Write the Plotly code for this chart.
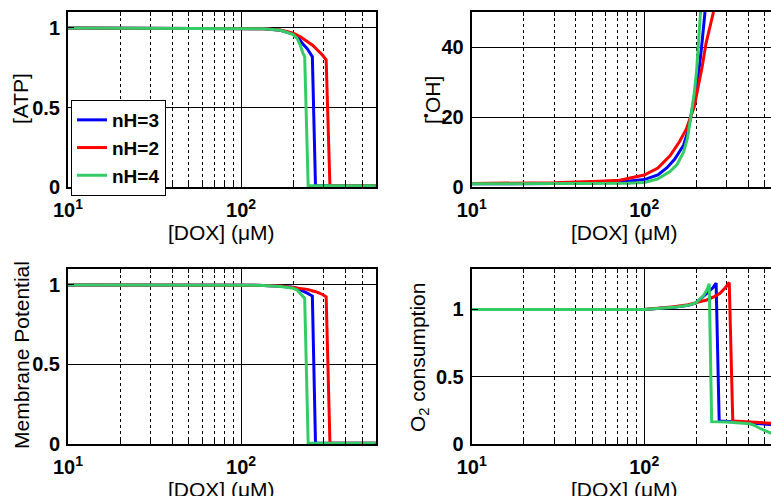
import math
import plotly.graph_objects as go

# ---------------- data ----------------
series_names = ["nH=3", "nH=2", "nH=4"]
series_colors = ["#0000FF", "#FF0000", "#33CC66"]

# [ATP]
atp_x_nh3 = [10, 100, 135, 169, 185, 200, 211, 225, 241, 258, 269, 600]
atp_y_nh3 = [1, 0.999, 0.995, 0.985, 0.975, 0.962, 0.95, 0.905, 0.87, 0.82, 0.01, 0.01]
atp_x_nh2 = [10, 100, 135, 169, 200, 220, 241, 260, 275, 295, 310, 326, 600]
atp_y_nh2 = [1, 0.999, 0.995, 0.987, 0.967, 0.945, 0.916, 0.89, 0.863, 0.83, 0.80, 0.01, 0.01]
atp_x_nh4 = [10, 100, 135, 169, 185, 200, 211, 220, 228, 233, 244, 600]
atp_y_nh4 = [1, 0.999, 0.995, 0.985, 0.973, 0.958, 0.933, 0.89, 0.84, 0.82, 0.01, 0.01]

# [.OH]
oh_x_nh3 = [10, 30, 55, 80, 100, 120, 135, 150, 169, 178, 186, 195, 206, 215, 225]
oh_y_nh3 = [1.0, 1.05, 1.3, 1.7, 2.2, 3.5, 5.5, 8, 12, 15.5, 20, 26, 32, 40, 50]
oh_x_nh2 = [10, 30, 55, 72, 100, 120, 141, 160, 175, 186, 195, 206, 216, 228, 240, 252]
oh_y_nh2 = [1.1, 1.3, 1.7, 2.0, 3.5, 5.5, 9.0, 13, 16.5, 20, 23, 29, 34, 41, 46, 50]
oh_x_nh4 = [10, 30, 55, 80, 100, 120, 141, 155, 169, 178, 186, 195, 201, 206, 212]
oh_y_nh4 = [1.0, 1.0, 1.0, 1.15, 1.35, 2.4, 4.5, 6.5, 10, 14, 20, 27, 33, 40, 50]

# Membrane potential
mp_x_nh3 = [10, 100, 135, 169, 200, 211, 225, 241, 258, 269, 600]
mp_y_nh3 = [1, 0.999, 0.997, 0.992, 0.985, 0.978, 0.965, 0.948, 0.93, 0.005, 0.005]
mp_x_nh2 = [10, 100, 135, 169, 200, 220, 241, 260, 275, 295, 310, 326, 600]
mp_y_nh2 = [1, 0.999, 0.997, 0.993, 0.985, 0.978, 0.972, 0.962, 0.955, 0.94, 0.925, 0.005, 0.005]
mp_x_nh4 = [10, 100, 135, 169, 200, 211, 220, 228, 233, 244, 600]
mp_y_nh4 = [1, 0.999, 0.997, 0.99, 0.979, 0.968, 0.947, 0.926, 0.915, 0.005, 0.005]

# O2 consumption
o2_x_nh3 = [10, 100, 148, 180, 200, 230, 250, 261, 272, 350, 450, 600]
o2_y_nh3 = [1, 1.0, 1.015, 1.03, 1.048, 1.12, 1.16, 1.195, 0.17, 0.163, 0.155, 0.14]
o2_x_nh2 = [10, 100, 148, 180, 200, 230, 255, 275, 295, 311, 326, 400, 600]
o2_y_nh2 = [1, 1.0, 1.02, 1.035, 1.05, 1.07, 1.095, 1.12, 1.16, 1.2, 0.17, 0.165, 0.152]
o2_x_nh4 = [10, 100, 148, 180, 200, 220, 232, 238, 246, 300, 410, 440, 470, 505, 543, 600]
o2_y_nh4 = [1, 1.0, 1.015, 1.03, 1.05, 1.1, 1.15, 1.19, 0.166, 0.163, 0.15, 0.135, 0.115, 0.095, 0.08, 0.06]

x_tick_vals = [10, 100]
x_tick_text = ["10<sup>1</sup>", "10<sup>2</sup>"]
x_minor_vals = [20, 30, 40, 50, 60, 70, 80, 90, 200, 300, 400, 500]
x_max_left = 600
x_max_right = 543

atp_ticks = [0, 0.5, 1]
atp_ticktext = ["0", "0.5", "1"]
oh_ticks = [0, 20, 40]
oh_ticktext = ["0", "20", "40"]
mp_ticks = [0, 0.5, 1]
mp_ticktext = ["0", "0.5", "1"]
o2_ticks = [0, 0.5, 1]
o2_ticktext = ["0", "0.5", "1"]

panels = [
    ("x", "y", [atp_x_nh3, atp_x_nh2, atp_x_nh4], [atp_y_nh3, atp_y_nh2, atp_y_nh4]),
    ("x2", "y2", [oh_x_nh3, oh_x_nh2, oh_x_nh4], [oh_y_nh3, oh_y_nh2, oh_y_nh4]),
    ("x3", "y3", [mp_x_nh3, mp_x_nh2, mp_x_nh4], [mp_y_nh3, mp_y_nh2, mp_y_nh4]),
    ("x4", "y4", [o2_x_nh3, o2_x_nh2, o2_x_nh4], [o2_y_nh3, o2_y_nh2, o2_y_nh4]),
]

W, H = 771, 496
FONT = "Liberation Sans, Arial, Helvetica, sans-serif"

fig = go.Figure()
for pi, (xa, ya, xs, ys) in enumerate(panels):
    for si in range(3):
        fig.add_trace(go.Scatter(
            x=xs[si], y=ys[si], mode="lines", xaxis=xa, yaxis=ya,
            name=series_names[si], showlegend=(pi == 0),
            line=dict(color=series_colors[si], width=3),
        ))

left_dom = [68 / W, 375.8 / W]
right_dom = [471.7 / W, 1.0]
top_dom = [1 - 187.3 / H, 1 - 12 / H]
bot_dom = [1 - 444 / H, 1 - 269 / H]


def xaxis_cfg(dom, anchor, xmax):
    return dict(
        type="log", domain=dom, anchor=anchor,
        range=[1, math.log10(xmax)],
        tickmode="array", tickvals=x_tick_vals, ticktext=x_tick_text,
        ticks="inside", ticklen=6, tickwidth=1, tickcolor="black",
        showline=True, linecolor="black", linewidth=2, mirror="ticks",
        showgrid=True, gridcolor="black", gridwidth=1,
        tickfont=dict(family=FONT, size=20, color="black", weight="bold"),
        ticklabelstandoff=4,
        minor=dict(tickmode="array", tickvals=x_minor_vals, ticks="inside", ticklen=4,
                   tickcolor="black", showgrid=True, gridcolor="black",
                   griddash="3px,3px", gridwidth=1),
        zeroline=False,
    )


def yaxis_cfg(dom, anchor, yr, yt, ytt, mirror):
    return dict(
        domain=dom, anchor=anchor, range=yr,
        tickmode="array", tickvals=yt, ticktext=ytt,
        ticks="inside", ticklen=6, tickwidth=1, tickcolor="black",
        showline=True, linecolor="black", linewidth=2, mirror=mirror,
        showgrid=True, gridcolor="black", gridwidth=1,
        tickfont=dict(family=FONT, size=20, color="black", weight="bold"),
        ticklabelstandoff=2,
        zeroline=False,
    )


fig.update_layout(
    width=W, height=H,
    margin=dict(l=0, r=0, t=0, b=0, autoexpand=False),
    paper_bgcolor="white", plot_bgcolor="white",
    font=dict(family=FONT, color="black"),
    xaxis=xaxis_cfg(left_dom, "y", x_max_left),
    yaxis=yaxis_cfg(top_dom, "x", [0, 1.1], atp_ticks, atp_ticktext, "ticks"),
    xaxis2=xaxis_cfg(right_dom, "y2", x_max_right),
    yaxis2=yaxis_cfg(top_dom, "x2", [0, 50], oh_ticks, oh_ticktext, False),
    xaxis3=xaxis_cfg(left_dom, "y3", x_max_left),
    yaxis3=yaxis_cfg(bot_dom, "x3", [0, 1.1], mp_ticks, mp_ticktext, "ticks"),
    xaxis4=xaxis_cfg(right_dom, "y4", x_max_right),
    yaxis4=yaxis_cfg(bot_dom, "x4", [0, 1.3], o2_ticks, o2_ticktext, False),
    legend=dict(
        x=71 / W, y=1 - 100 / H, xanchor="left", yanchor="top",
        bgcolor="white", bordercolor="black", borderwidth=1,
        font=dict(family=FONT, size=19, color="black", weight="bold"),
        itemwidth=30, tracegroupgap=0,
    ),
    showlegend=True,
)


def title_ann(text, px, py, angle=0):
    return dict(
        text=text, x=px / W, y=1 - py / H, xref="paper", yref="paper",
        xanchor="center", yanchor="middle", showarrow=False, textangle=angle,
        font=dict(family=FONT, size=21, color="black"),
    )


fig.update_layout(annotations=[
    title_ann("[DOX] (\u03bcM)", 222, 232),
    title_ann("[DOX] (\u03bcM)", 624, 232),
    title_ann("[DOX] (\u03bcM)", 222, 489),
    title_ann("[DOX] (\u03bcM)", 624, 489),
    title_ann("[ATP]", 20, 99, -90),
    title_ann("[<sup>\u2022</sup>OH]", 431, 100, -90),
    title_ann("Membrane Potential", 21, 355, -90),
    title_ann("O<sub>2</sub> consumption", 419, 357, -90),
])

fig.write_html("out.html", post_script="document.body.style.margin='0px';")
